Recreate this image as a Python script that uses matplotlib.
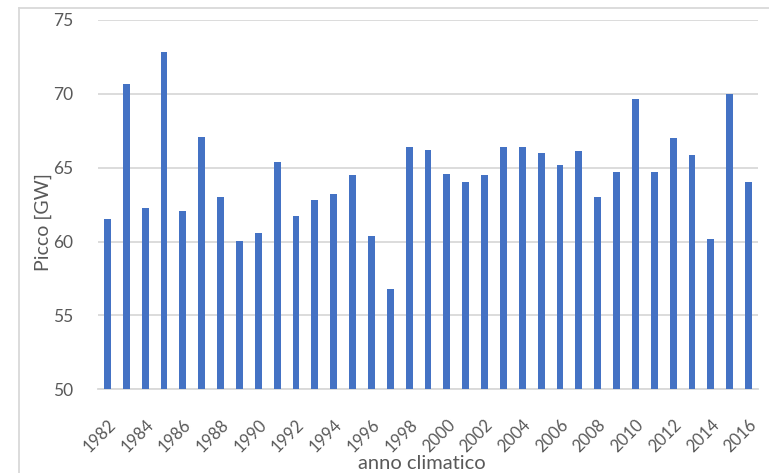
import matplotlib
matplotlib.use("Agg")
import matplotlib.pyplot as plt
from matplotlib.lines import Line2D

years = list(range(1982, 2017))
peak_gw = [61.5, 70.7, 62.3, 72.8, 62.05, 67.1, 63.05, 60.05, 60.6, 65.4,
           61.7, 62.8, 63.2, 64.5, 60.35, 56.8, 66.4, 66.2, 64.6, 64.05,
           64.5, 66.4, 66.4, 66.0, 65.2, 66.1, 63.05, 64.7, 69.65, 64.7,
           67.0, 65.85, 60.2, 70.0, 64.05]
yticks = [50, 55, 60, 65, 70, 75]

plt.rcParams['font.family'] = ['Lato', 'DejaVu Sans']
W, H = 769, 473
fig = plt.figure(figsize=(W/100, H/100), dpi=100)
ax = fig.add_axes([98/W, 1-389.3/H, (758-98)/W, (389.3-20)/H])

x = list(range(len(years)))
ax.bar(x, [v - 50 for v in peak_gw], bottom=50, width=0.36, color='#4472C4',
       zorder=3)
ax.set_xlim(-0.5, len(years) - 0.5)
ax.set_ylim(50, 75)
ax.set_yticks(yticks)
ax.set_yticklabels([str(t) for t in yticks], fontsize=12.5, color='#595959')
ax.yaxis.grid(True, color='#d9d9d9', linewidth=1.3, zorder=0)
ax.set_xticks(x[::2])
ax.set_xticklabels([str(y) for y in years[::2]], rotation=45, ha='right',
                   rotation_mode='anchor', fontsize=12, color='#595959')
ax.tick_params(axis='both', length=0)
ax.tick_params(axis='y', pad=18)
ax.tick_params(axis='x', pad=20)
for s in ['top', 'right', 'left']:
    ax.spines[s].set_visible(False)
ax.spines['bottom'].set_color('#d9d9d9')
ax.spines['bottom'].set_linewidth(1.3)

fig.text(43/W, 1-222/H, 'Picco [GW]', rotation=90, ha='center', va='center',
         fontsize=14, color='#595959')
fig.text(422/W, 1-463/H, 'anno climatico', ha='center', va='center',
         fontsize=14.5, color='#595959')

# chart frame
fig.add_artist(Line2D([18.5/W, 18.5/W], [0, 1-8/H], color='#d9d9d9', lw=1.3,
                      transform=fig.transFigure))
fig.add_artist(Line2D([18.5/W, 1], [1-8/H, 1-8/H], color='#d9d9d9', lw=1.3,
                      transform=fig.transFigure))

fig.savefig('out.png', dpi=100, facecolor='white')
